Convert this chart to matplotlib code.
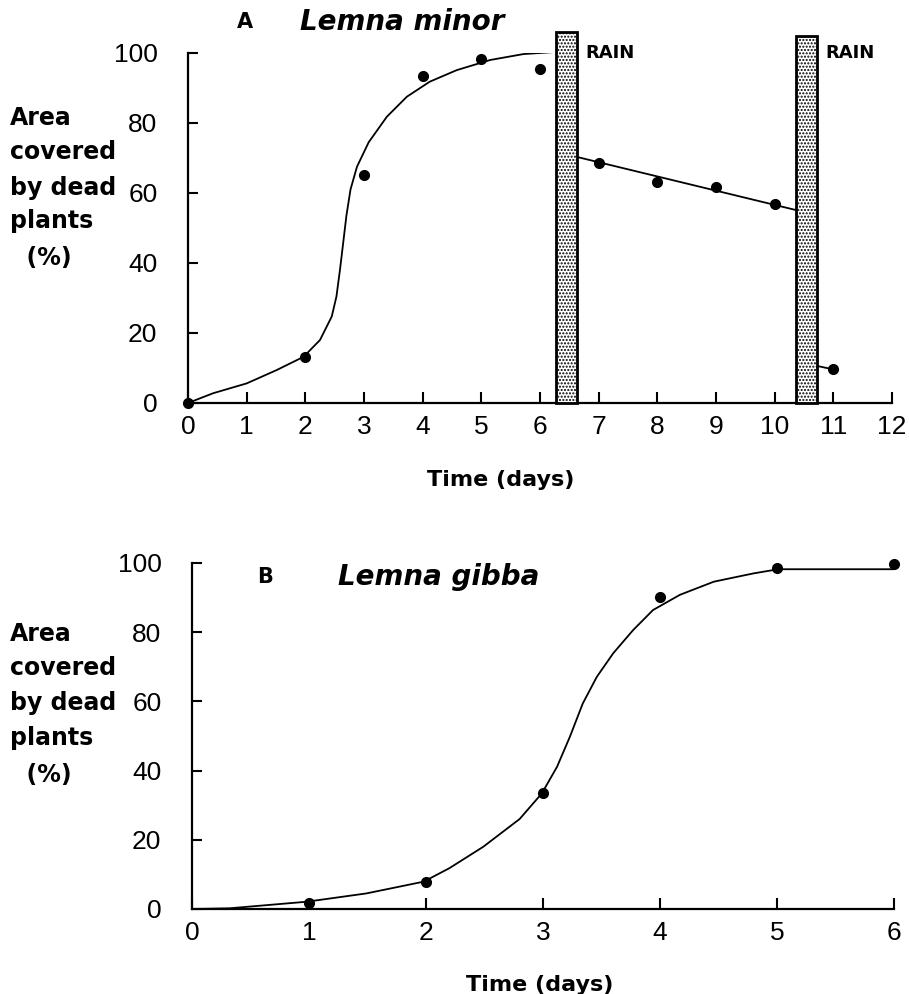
import numpy as np
import matplotlib
matplotlib.use("Agg")
import matplotlib.pyplot as plt

# ---- panel A: Lemna minor ----
a_days = [0, 2, 3, 4, 5, 6]
a_dead = [0, 13, 65, 93.4, 98.4, 95.3]
a_curve_x = [0, 0.43, 1.0, 1.51, 1.97, 2.25, 2.45, 2.53, 2.59, 2.64, 2.70, 2.77,
             2.88, 3.08, 3.39, 3.73, 4.12, 4.58, 5.15, 5.72, 6.27]
a_curve_y = [0, 2.8, 5.6, 9.4, 13.2, 18, 24.7, 30.4, 38, 45, 53.5, 61,
             67.5, 74.5, 81.8, 87.5, 91.8, 95.1, 98, 99.7, 100.3]
# between the two rain events
a_mid_days = [7, 8, 9, 10]
a_mid_dead = [68.5, 63.2, 61.8, 56.9]
a_mid_line_x = [6.63, 10.37]
a_mid_line_y = [70.3, 55.1]
# after the second rain
a_end_days = [11]
a_end_dead = [9.6]
a_end_line_x = [10.72, 11]
a_end_line_y = [10.6, 9.6]
# rain bars
rain_start = [6.27, 10.37]
rain_end = [6.63, 10.72]
rain_top = [106, 105]

# ---- panel B: Lemna gibba ----
b_days = [1, 2, 3, 4, 5, 6]
b_dead = [1.7, 7.8, 33.4, 90.3, 98.5, 99.7]
b_curve_x = [0, 0.32, 0.98, 1.49, 1.98, 2.2, 2.49, 2.8, 2.99, 3.12, 3.23, 3.34,
             3.46, 3.60, 3.77, 3.94, 4.17, 4.46, 4.80, 5.01, 6.0]
b_curve_y = [0, 0.2, 2.1, 4.5, 7.9, 11.8, 18, 26, 33.4, 41.1, 49.8, 59.4,
             67.1, 73.9, 80.6, 86.4, 90.8, 94.6, 97, 98.2, 98.2]

ylabel_lines = ["Area", "covered", "by dead", "plants", "  (%)"]

plt.rcParams['hatch.linewidth'] = 1.0
W, H = 909, 994
fig = plt.figure(figsize=(W / 100, H / 100), dpi=100)

def px_axes(left, right, top, bottom):
    return fig.add_axes([left / W, 1 - bottom / H, (right - left) / W, (bottom - top) / H])

def style_axes(ax, xmax):
    for s in ['top', 'right']:
        ax.spines[s].set_visible(False)
    for s in ['left', 'bottom']:
        ax.spines[s].set_linewidth(1.6)
    ax.set_xlim(0, xmax)
    ax.set_ylim(0, 100)
    ax.set_xticks(range(0, xmax + 1))
    ax.set_yticks(range(0, 101, 20))
    ax.tick_params(axis='x', direction='in', length=8, width=1.5, pad=9,
                   labelsize=19)
    ax.tick_params(axis='y', direction='in', length=7, width=1.5, pad=22,
                   labelsize=19)
    for lab in ax.get_xticklabels() + ax.get_yticklabels():
        lab.set_family('Liberation Sans')

def ylabel_block(ys):
    for line, y in zip(ylabel_lines, ys):
        fig.text(10 / W, 1 - y / H, line, ha='left', va='center',
                 fontsize=17, fontweight='bold', family='DejaVu Sans')

# panel A
axA = px_axes(188, 892, 53, 403)
style_axes(axA, 12)
axA.plot(a_curve_x, a_curve_y, color='black', lw=1.3, solid_joinstyle='round')
axA.plot(a_mid_line_x, a_mid_line_y, color='black', lw=1.3)
axA.plot(a_end_line_x, a_end_line_y, color='black', lw=1.3)
axA.plot(a_days, a_dead, 'o', color='black', ms=7, clip_on=False)
axA.plot(a_mid_days, a_mid_dead, 'o', color='black', ms=7)
axA.plot(a_end_days, a_end_dead, 'o', color='black', ms=7)
for x0, x1, top in zip(rain_start, rain_end, rain_top):
    axA.bar(x0, top, width=x1 - x0, align='edge', facecolor='white',
            edgecolor='black', hatch='.....', linewidth=2.0, clip_on=False, zorder=3)
    axA.text(x1 + 0.15, 100, "RAIN", ha='left', va='center', fontsize=13,
             fontweight='bold', family='DejaVu Sans')
axA.set_xlabel("Time (days)", fontsize=16, fontweight='bold', family='DejaVu Sans')
axA.xaxis.set_label_coords((501 - 188) / 704, -(470 - 403) / 350)
fig.text(245 / W, 1 - 22 / H, "A", ha='center', va='center', fontsize=15,
         fontweight='bold', family='DejaVu Sans')
fig.text(300 / W, 1 - 22 / H, "Lemna minor", ha='left', va='center', fontsize=20,
         fontweight='bold', style='italic', family='DejaVu Sans')
ylabel_block([118, 152, 188, 221, 258])

# panel B
axB = px_axes(192, 894, 563, 909)
style_axes(axB, 6)
axB.plot(b_curve_x, b_curve_y, color='black', lw=1.3, solid_joinstyle='round')
axB.plot(b_days, b_dead, 'o', color='black', ms=7, clip_on=False)
axB.set_xlabel("Time (days)", fontsize=16, fontweight='bold', family='DejaVu Sans')
axB.xaxis.set_label_coords((540 - 192) / 702, -(975 - 909) / 346)
fig.text(265 / W, 1 - 577 / H, "B", ha='center', va='center', fontsize=15,
         fontweight='bold', family='DejaVu Sans')
fig.text(338 / W, 1 - 577 / H, "Lemna gibba", ha='left', va='center', fontsize=20,
         fontweight='bold', style='italic', family='DejaVu Sans')
ylabel_block([634, 668, 703, 738, 775])

fig.savefig("out.png", dpi=100)
